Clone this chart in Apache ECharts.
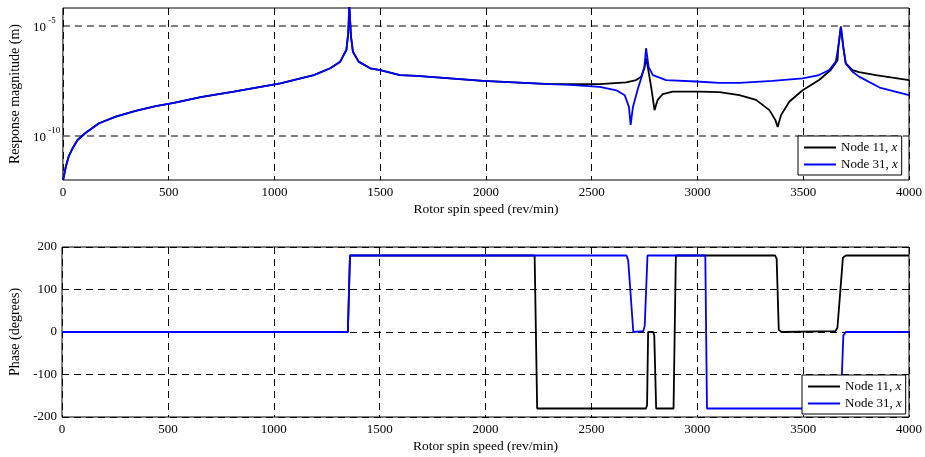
<!DOCTYPE html>
<html>
<head>
<meta charset="utf-8">
<script src="https://cdn.jsdelivr.net/npm/echarts@6.0.0/dist/echarts.min.js"></script>
<style>
  html, body { margin: 0; padding: 0; background: #fff; }
  #chart { width: 925px; height: 457px; }
</style>
</head>
<body>
<div id="chart"></div>
<script>
// rotor speed (rev/min) vs response magnitude (m)
var magShared = [
    [1, 1e-12], [14, 4.1e-12], [27, 1.15e-11], [46, 2.8e-11], [69, 6.6e-11], [108, 1.4e-10],
    [171, 3.8e-10], [250, 7.6e-10], [344, 1.4e-9], [439, 2.3e-9], [525, 3.2e-9],
    [651, 5.8e-9], [808, 1.05e-8], [1028, 2.5e-8], [1186, 5.9e-8], [1264, 1.2e-7],
    [1311, 2.4e-7], [1340, 8.1e-7], [1349, 4.7e-6], [1354, 9e-5], [1362, 3.3e-6],
    [1371, 6.8e-7], [1398, 2.4e-7], [1453, 1.2e-7], [1500, 1.0e-7], [1594, 5.9e-8],
    [1673, 5.4e-8], [1986, 3.2e-8], [2302, 2.3e-8]
];
var magNode11Tail = [
    [2538, 2.3e-8], [2663, 2.75e-8], [2710, 3.5e-8], [2734, 5.0e-8], [2749, 1.2e-7],
    [2757, 3.4e-7], [2765, 1.4e-7], [2781, 1.7e-8], [2797, 1.5e-9], [2812, 4.4e-9],
    [2836, 8.1e-9], [2883, 1.05e-8], [3009, 1.05e-8], [3104, 9.8e-9], [3198, 7.2e-9],
    [3277, 4.4e-9], [3340, 1.5e-9], [3368, 5.4e-10], [3379, 2.6e-10], [3395, 8.9e-10],
    [3434, 3.6e-9], [3497, 1.2e-8], [3575, 3.5e-8], [3630, 1.0e-7], [3662, 2.8e-7],
    [3666, 1.15e-6], [3678, 9.3e-6], [3689, 1.15e-6], [3701, 2.0e-7], [3733, 1.0e-7],
    [3764, 8.0e-8], [3843, 5.9e-8], [4000, 3.5e-8]
];
var magNode31Tail = [
    [2396, 2.1e-8], [2538, 1.7e-8], [2617, 1.2e-8], [2656, 7.2e-9], [2676, 2.1e-9],
    [2684, 3.2e-10], [2695, 2.1e-9], [2719, 1.5e-8], [2734, 4.2e-8], [2749, 1.4e-7],
    [2757, 9.8e-7], [2769, 1.4e-7], [2789, 5.9e-8], [2852, 3.5e-8], [2993, 3.0e-8],
    [3104, 2.6e-8], [3198, 2.6e-8], [3355, 3.2e-8], [3497, 4.2e-8], [3575, 5.9e-8],
    [3623, 1.0e-7], [3654, 2.4e-7], [3666, 1.15e-6], [3678, 9.3e-6], [3689, 1.15e-6],
    [3701, 2.0e-7], [3733, 8.3e-8], [3764, 5.0e-8], [3861, 1.6e-8], [4000, 7.2e-9]
];
// phase (degrees)
var phaseNode11 = [
    [0, 0], [1350, 0], [1360, 180], [2232, 180], [2244, -180], [2758, -180], [2763, -172],
    [2768, 0], [2792, 0], [2797, -8], [2806, -180], [2888, -180], [2899, 180], [3368, 180],
    [3375, 172], [3385, 5], [3398, 0], [3652, 2], [3662, 10], [3688, 175], [3702, 180],
    [4000, 180]
];
var phaseNode31 = [
    [0, 0], [1350, 0], [1360, 180], [2666, 180], [2674, 168], [2698, 0], [2745, 2],
    [2752, 15], [2765, 180], [3038, 180], [3046, -180], [3677, -180], [3690, -8],
    [3702, 0], [4000, 0]
];
var speedTicks = [0, 4000, 500];
var phaseTicks = [-200, 200, 100];
var magRange = [1e-12, 6.6e-5];
var magGridLines = [1e-5, 1e-10];

var serif = 'Liberation Serif';
var dash = [7, 5];
var lw = 1.8;

var chart = echarts.init(document.getElementById('chart'));

function xAxisCfg(idx, gap) {
    return {
        type: 'value', gridIndex: idx, min: speedTicks[0], max: speedTicks[1], interval: speedTicks[2],
        name: 'Rotor spin speed (rev/min)', nameLocation: 'middle', nameGap: gap,
        nameTextStyle: { fontFamily: serif, fontSize: 13.5, color: '#000' },
        axisLine: { show: false }, axisTick: { show: false },
        axisLabel: { fontFamily: serif, fontSize: 13, color: '#000', margin: 6,
            formatter: function (v) { return String(v); } },
        splitLine: { show: true, lineStyle: { color: '#000', type: dash, width: 1 } }
    };
}
function legendCfg(left, top) {
    return {
        orient: 'vertical', left: left, top: top, selectedMode: false,
        backgroundColor: '#fff', borderColor: '#000', borderWidth: 1, borderRadius: 0,
        padding: [4, 4, 3, 6], itemGap: 2, itemWidth: 32, itemHeight: 2, icon: 'rect',
        formatter: function (n) { return n.replace(', x', ', {i|x}'); },
        textStyle: { fontFamily: serif, fontSize: 13, color: '#000', lineHeight: 15,
            rich: { i: { fontFamily: serif, fontSize: 13, fontStyle: 'italic', lineHeight: 15 } } },
        data: ['Node 11, x', 'Node 31, x']
    };
}
function gridLineSeries(v) {
    return {
        type: 'line', xAxisIndex: 0, yAxisIndex: 0, silent: true, showSymbol: false, symbol: 'none',
        data: [[speedTicks[0], v], [speedTicks[1], v]], z: 1,
        lineStyle: { color: '#000', type: dash, width: 1 }
    };
}

chart.setOption({
    animation: false,
    backgroundColor: '#fff',
    grid: [
        { left: 62, top: 8, width: 848, height: 172, show: true, borderColor: '#000', borderWidth: 1, backgroundColor: 'transparent' },
        { left: 62, top: 247, width: 848, height: 170, show: true, borderColor: '#000', borderWidth: 1, backgroundColor: 'transparent' }
    ],
    legend: [legendCfg(798, 136), legendCfg(802, 375)],
    xAxis: [xAxisCfg(0, 22), xAxisCfg(1, 22)],
    yAxis: [
        {
            type: 'log', gridIndex: 0, min: magRange[0], max: magRange[1], interval: 1,
            name: 'Response magnitude (m)', nameLocation: 'middle', nameGap: 30,
            nameTextStyle: { fontFamily: serif, fontSize: 14, color: '#000' },
            axisLine: { show: false }, axisTick: { show: false }, splitLine: { show: false },
            axisLabel: {
                align: 'left', margin: 30,
                formatter: function (v) {
                    var l = Math.log10(v), e = Math.round(l);
                    if (Math.abs(l - e) > 0.01) return '';
                    return (e === -5 || e === -10) ? '{b|10}{s| ' + e + '}' : '';
                },
                rich: {
                    b: { fontFamily: serif, fontSize: 13, color: '#000', lineHeight: 20, padding: [4, 0, 0, 0] },
                    s: { fontFamily: serif, fontSize: 9, color: '#000', verticalAlign: 'top', lineHeight: 10 }
                }
            }
        },
        {
            type: 'value', gridIndex: 1, min: phaseTicks[0], max: phaseTicks[1], interval: phaseTicks[2],
            name: 'Phase (degrees)', nameLocation: 'middle', nameGap: 30,
            nameTextStyle: { fontFamily: serif, fontSize: 14, color: '#000' },
            axisLine: { show: false }, axisTick: { show: false },
            axisLabel: { fontFamily: serif, fontSize: 13, color: '#000', margin: 5 },
            splitLine: { show: true, lineStyle: { color: '#000', type: dash, width: 1 } }
        }
    ],
    series: magGridLines.map(gridLineSeries).concat([
        {
            name: 'Node 11, x', type: 'line', xAxisIndex: 0, yAxisIndex: 0, showSymbol: false, symbol: 'none', z: 2,
            data: magShared.concat(magNode11Tail), lineStyle: { color: '#000', width: lw }, itemStyle: { color: '#000' }
        },
        {
            name: 'Node 31, x', type: 'line', xAxisIndex: 0, yAxisIndex: 0, showSymbol: false, symbol: 'none', z: 3,
            data: magShared.concat(magNode31Tail), lineStyle: { color: '#0000ff', width: lw }, itemStyle: { color: '#0000ff' }
        },
        {
            name: 'Node 11, x', type: 'line', xAxisIndex: 1, yAxisIndex: 1, showSymbol: false, symbol: 'none', z: 2,
            data: phaseNode11, lineStyle: { color: '#000', width: lw }, itemStyle: { color: '#000' }
        },
        {
            name: 'Node 31, x', type: 'line', xAxisIndex: 1, yAxisIndex: 1, showSymbol: false, symbol: 'none', z: 3,
            data: phaseNode31, lineStyle: { color: '#0000ff', width: lw }, itemStyle: { color: '#0000ff' }
        }
    ])
});
</script>
</body>
</html>
